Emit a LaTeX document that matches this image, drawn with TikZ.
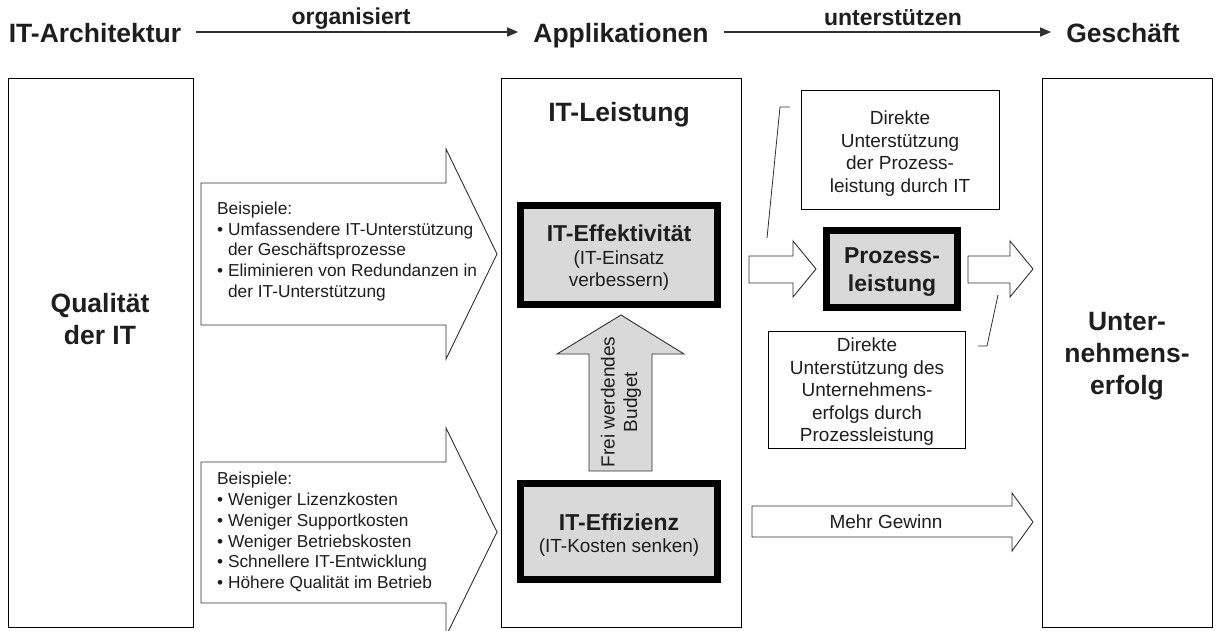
\documentclass[tikz,border=0pt]{standalone}
\usepackage{fontspec}
\setmainfont{Liberation Sans}
\usetikzlibrary{arrows.meta}
\definecolor{boxgray}{HTML}{D9D9D9}
\definecolor{ink}{HTML}{1E1E1E}
\definecolor{linec}{HTML}{303030}
\newcommand{\fsz}[2]{\fontsize{#1}{#2}\selectfont}
\begin{document}
\begin{tikzpicture}[x=1pt,y=-1pt,
  every node/.style={inner sep=0pt, text=ink},
  hdr/.style={font=\fsz{26.5}{30}\bfseries, anchor=base},
  hlab/.style={font=\fsz{23}{26}\bfseries, anchor=base},
  harrow/.style={draw=linec, line width=1.5pt, -{Triangle[length=11pt,width=9pt]}},
  frame/.style={draw=black, line width=1pt},
  big/.style={font=\fsz{26.5}{32}\bfseries, align=center},
  blockarrow/.style={draw=linec, line width=0.9pt, fill=white, line join=miter},
  listtext/.style={font=\fsz{17.3}{20.8}, align=left, anchor=west},
  keybox/.style={draw=black, line width=7pt, fill=boxgray},
  note/.style={font=\fsz{19}{22.5}, align=center},
  notebox/.style={draw=black, line width=0.8pt},
  bracket/.style={draw=linec, line width=0.8pt}]
\useasboundingbox (0,0) rectangle (1217,631);
\clip (0,0) rectangle (1217,631);

% header
\node[hdr] (arch) at (95,43) {IT-Architektur};
\node[hdr] (appl) at (621,43) {Applikationen};
\node[hdr] (gesch) at (1123,43) {Geschäft};
\draw[harrow] ([shift={(15,-11)}]arch.base east) -- ([shift={(-15,-11)}]appl.base west);
\draw[harrow] ([shift={(15,-11)}]appl.base east) -- ([shift={(-15,-11)}]gesch.base west);
\node[hlab] (org) at (351,25) {organisiert};
\node[hlab] (unt) at (893,26) {unterstützen};

% frames
\node[frame, minimum width=185pt, minimum height=548pt] (qbox) at (100.5,353) {};
\node[frame, minimum width=240pt, minimum height=548pt] (lbox) at (621,353) {};
\node[frame, minimum width=170pt, minimum height=548pt] (ubox) at (1127,353) {};
\node[big] (qual) at (100,319) {Qualität\\der IT};
\node[big] (unter) at (1127,356) {Unter-\\nehmens-\\erfolg};
\node[hdr] (itl) at (619,122) {IT-Leistung};

% big arrows
\draw[blockarrow] (201,183) -- (446,183) -- (446,149) -- (497,254) -- (446,359) -- (446,325) -- (201,325) -- cycle;
\node[listtext] (ex1) at (217,251.5) {Beispiele:\\\textbullet\ Umfassendere IT-Unterstützung\\\phantom{\textbullet\ }der Geschäftsprozesse\\\textbullet\ Eliminieren von Redundanzen in\\\phantom{\textbullet\ }der IT-Unterstützung};
\draw[blockarrow] (201,462) -- (446,462) -- (446,428) -- (497,532) -- (446,636) -- (446,603) -- (201,603) -- cycle;
\node[listtext] (ex2) at (217,532) {Beispiele:\\\textbullet\ Weniger Lizenzkosten\\\textbullet\ Weniger Supportkosten\\\textbullet\ Weniger Betriebskosten\\\textbullet\ Schnellere IT-Entwicklung\\\textbullet\ Höhere Qualität im Betrieb};

% key boxes
\node[keybox, minimum width=197pt, minimum height=99pt] (eff) at (619,255) {};
\node[note] (efft) at (619,258) {{\fsz{23}{23}\bfseries IT-Effektivität}\\(IT-Einsatz\\verbessern)};
\node[keybox, minimum width=197pt, minimum height=96pt] (effz) at (619,531.5) {};
\node[note] (effzt) at (619,535) {{\fsz{23}{23}\bfseries IT-Effizienz}\\(IT-Kosten senken)};
\draw[blockarrow, fill=boxgray] (589,471) -- (589,354) -- (557,354) -- (621,315) -- (684,354) -- (652,354) -- (652,471) -- cycle;
\node[note, rotate=90] (budget) at (621,402) {Frei werdendes\\Budget};

% right section
\node[notebox, minimum width=198pt, minimum height=119pt] (nb1) at (900,149.5) {};
\node[note] (nb1t) at (900,153.7) {Direkte\\Unterstützung\\der Prozess-\\leistung durch IT};
\draw[bracket] (790,107) -- (780,107) -- (767,238);
\draw[blockarrow] (749,256) -- (793,256) -- (793,241) -- (816,269) -- (793,297) -- (793,283) -- (749,283) -- cycle;
\node[keybox, minimum width=131pt, minimum height=77pt] (proz) at (892,269) {};
\node[font=\fsz{23}{28}\bfseries, align=center] (prozt) at (892,272) {Prozess-\\leistung};
\draw[blockarrow] (968,256) -- (1010,256) -- (1010,241) -- (1033,269) -- (1010,297) -- (1010,283) -- (968,283) -- cycle;
\draw[bracket] (998,295) -- (987,346) -- (978,346);
\node[notebox, minimum width=197pt, minimum height=117pt] (nb2) at (866.5,389.5) {};
\node[note] (nb2t) at (867,392) {Direkte\\Unterstützung des\\Unternehmens-\\erfolgs durch\\Prozessleistung};
\draw[blockarrow] (752,506) -- (1012,506) -- (1012,493) -- (1033,522) -- (1012,551) -- (1012,537) -- (752,537) -- cycle;
\node[note] (gew) at (886,522) {Mehr Gewinn};
\end{tikzpicture}
\end{document}
